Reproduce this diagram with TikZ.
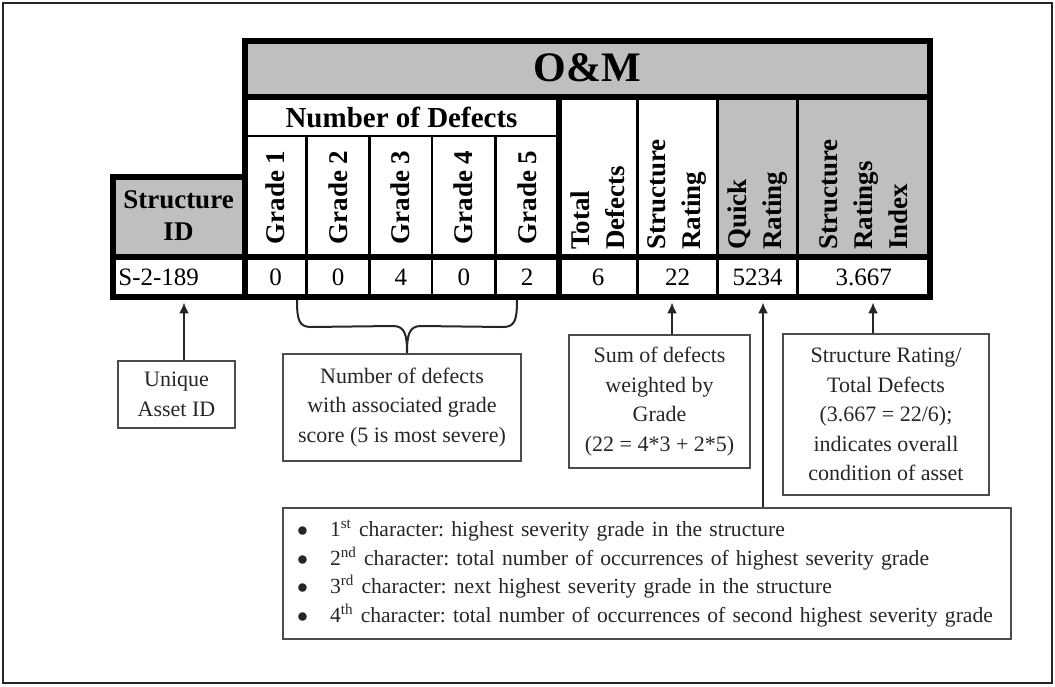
\documentclass[tikz,border=0pt]{standalone}
\usepackage{fontspec}
\setmainfont{Liberation Serif}
\usepackage{xcolor}
\usepackage{tikz}
\usetikzlibrary{arrows.meta,calc}

\newcommand{\itemdot}{\makebox[16.5pt][l]{$\bullet$}}

\begin{document}
\begin{tikzpicture}[x=0.5pt,y=-0.5pt,
  hdr/.style={font=\fontsize{13.5}{17.5}\selectfont\bfseries,inner sep=0pt},
  vhdr/.style={hdr,rotate=90,align=left},
  val/.style={font=\fontsize{12.5}{15}\selectfont,inner sep=0pt,minimum height=19.5pt},
  thickline/.style={line width=3pt},
  thinline/.style={line width=1.4pt},
  note/.style={draw=black!70,line width=1pt,inner sep=0pt,align=center,text=black!85,
    font=\fontsize{11}{14.75}\selectfont},
  pointer/.style={-{Latex[length=5.5pt,width=5pt]},line width=1pt,black!85,shorten >=2.5pt}]
\useasboundingbox (0,0) rectangle (1055,686);
\draw[black!85,line width=1pt] (3,3) rectangle (1052,683);

% shaded cells
\fill[black!25] (244.5,41) rectangle (930,96.5);
\fill[black!25] (112.5,176.5) rectangle (244.5,256.5);
\fill[black!25] (717.5,96.5) rectangle (930,256.5);

% thin rules
\draw[thinline] (244.5,136) -- (558.5,136);
\foreach \x in {306.5,369.5,432,495.5} \draw[thinline] (\x,136) -- (\x,297);
\foreach \x in {637.5,717.5,797.5} \draw[thinline] (\x,96.5) -- (\x,297);

% thick rules and outline
\draw[thickline] (244.5,41) -- (930,41) -- (930,297) -- (112.5,297) -- (112.5,176.5) -- (244.5,176.5) -- cycle;
\draw[thickline] (244.5,96.5) -- (930,96.5);
\draw[thickline] (112.5,256.5) -- (930,256.5);
\draw[thickline] (244.5,176.5) -- (244.5,297);
\draw[thickline] (558.5,96.5) -- (558.5,297);

% headers
\node[font=\fontsize{21}{24}\selectfont\bfseries] (om) at (587,68) {O\&M};
\node[hdr,font=\fontsize{14.5}{17}\selectfont\bfseries] (nod) at (401.5,117) {Number of Defects};
\node[hdr,align=center,font=\fontsize{13.5}{16}\selectfont\bfseries] (sid) at (178.5,216) {Structure\\ID};
\foreach \i/\x in {1/275.5,2/338,3/400.75,4/463.75,5/527}
  \node[hdr,rotate=90] (g\i) at (\x,197.5) {Grade \i};
\node[vhdr,anchor=west] (tdh) at (598,250) {Total\\Defects};
\node[vhdr,anchor=west] (srh) at (677.5,250) {Structure\\Rating};
\node[vhdr,anchor=west] (qrh) at (757.5,250) {Quick\\Rating};
\node[vhdr,anchor=west] (srih) at (863.75,250) {Structure\\Ratings\\Index};

% values
\node[val,anchor=west] (vid) at (118,277.5) {S-2-189};
\foreach \n/\x/\t in {v1/275.5/0,v2/338/0,v3/400.75/4,v4/463.75/0,v5/527/2,
    vtd/598/6,vsr/677.5/22,vqr/757.5/5234,vsri/863.75/3.667}
  \node[val] (\n) at (\x,277.5) {\t};

% notes
\node[note,minimum width=58.5pt,minimum height=33.5pt] (uid) at (176.5,394.5) {Unique\\Asset ID};
\node[note,minimum width=119pt,minimum height=53.5pt] (defs) at (402,407.5)
  {Number of defects\\with associated grade\\score (5 is most severe)};
\node[note,minimum width=90.5pt,minimum height=66.5pt] (sum) at (659.5,401.5)
  {Sum of defects\\weighted by\\Grade\\(22 = 4*3 + 2*5)};
\node[note,minimum width=103pt,minimum height=80.5pt] (ratio) at (886,414.5)
  {Structure Rating/\\Total Defects\\(3.667 = 22/6);\\indicates overall\\condition of asset};
\node[note,align=left,text width=350pt,inner xsep=7pt,minimum height=65.5pt,
  font=\fontsize{10.8}{14.25}\selectfont\frenchspacing] (qr) at (647,573.5)
  {\itemdot 1\textsuperscript{st} character: highest severity grade in the structure\\
   \itemdot 2\textsuperscript{nd} character: total number of occurrences of highest severity grade\\
   \itemdot 3\textsuperscript{rd} character: next highest severity grade in the structure\\
   \itemdot 4\textsuperscript{th} character: total number of occurrences of second highest severity grade};

% pointers
\coordinate (uidfoot) at ($(uid.north)+(7.5,0)$);
\draw[pointer] (uidfoot) -- (uidfoot |- vid.south);
\coordinate (sumfoot) at ($(sum.north)+(12.5,0)$);
\draw[pointer] (sumfoot) -- (sumfoot |- vsr.south);
\coordinate (ratiofoot) at ($(ratio.north)+(-13,0)$);
\draw[pointer] (ratiofoot) -- (ratiofoot |- vsri.south);
\coordinate (qrfoot) at ($(qr.north)+(116,0)$);
\draw[pointer] (qrfoot) -- (qrfoot |- vqr.south);

% brace over the grade values
\coordinate (bl) at (297,300);
\coordinate (br) at (517,300);
\coordinate (bt) at ($(defs.north)+(5,0)$);
\draw[black!85,line width=1pt] (bl) .. controls +(0,20) and +(-12,0) .. ($(bl)+(14,27)$)
  -- ($(bt)+(-14,-27)$) .. controls +(12,0) and +(0,-18) .. (bt)
  .. controls +(0,-18) and +(-12,0) .. ($(bt)+(14,-27)$)
  -- ($(br)+(-14,27)$) .. controls +(12,0) and +(0,20) .. (br);
\end{tikzpicture}
\end{document}
